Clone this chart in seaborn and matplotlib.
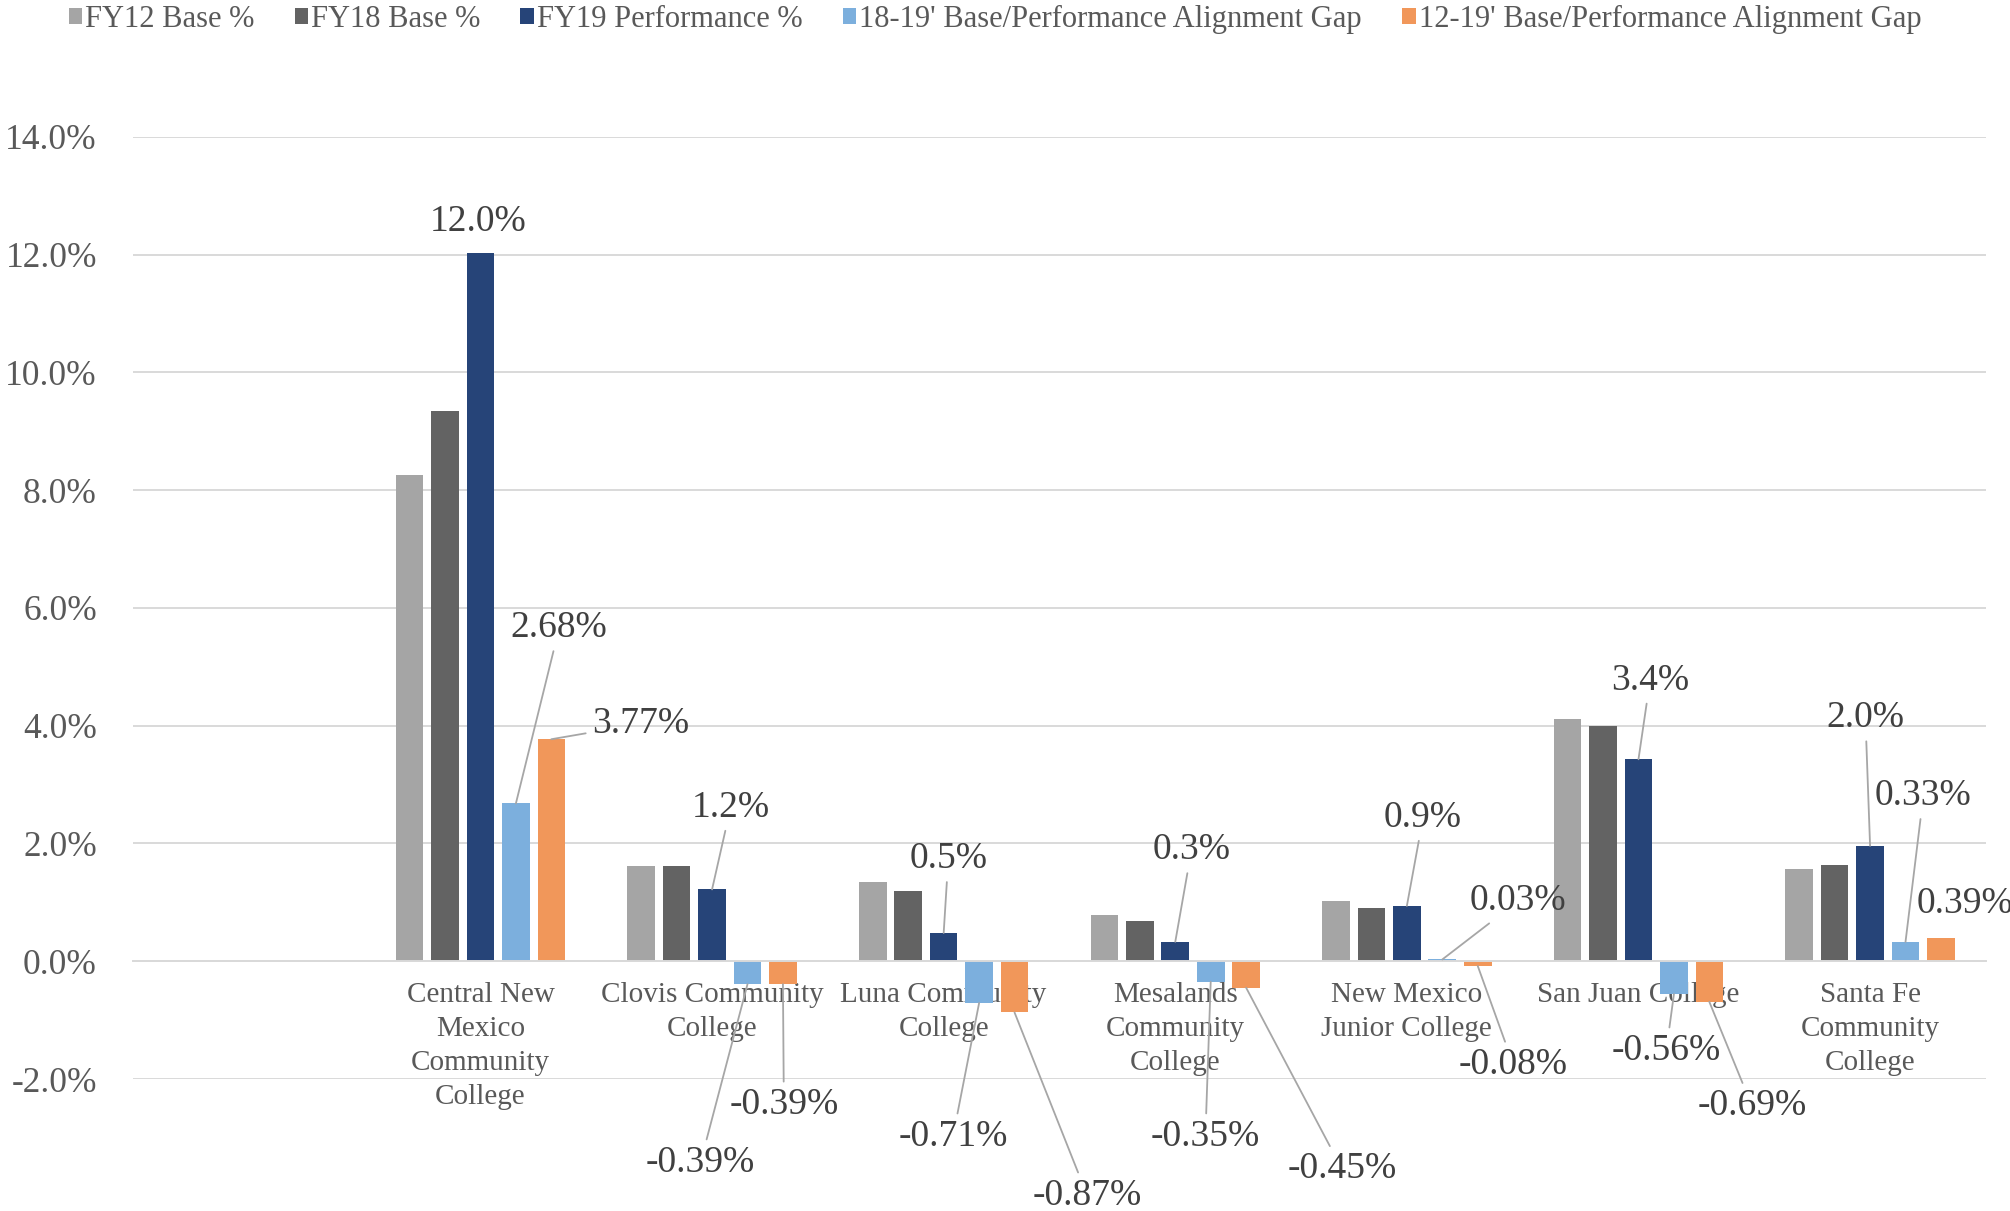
import numpy as np
import pandas as pd
import matplotlib
matplotlib.use("Agg")
import matplotlib.pyplot as plt
import seaborn as sns
from matplotlib.ticker import FuncFormatter, MultipleLocator

# ---------------- data ----------------
colleges = ["Central New Mexico Community College", "Clovis Community College",
            "Luna Community College", "Mesalands Community College",
            "New Mexico Junior College", "San Juan College",
            "Santa Fe Community College"]
tick_labels = ["", "Central New\nMexico\nCommunity\nCollege", "Clovis Community\nCollege",
               "Luna Community\nCollege", "Mesalands\nCommunity\nCollege",
               "New Mexico\nJunior College", "San Juan College",
               "Santa Fe\nCommunity\nCollege"]
series = ["FY12 Base %", "FY18 Base %", "FY19 Performance %",
          "18-19' Base/Performance Alignment Gap",
          "12-19' Base/Performance Alignment Gap"]

fy12 = [8.26, 1.61, 1.35, 0.78, 1.02, 4.12, 1.57]
fy18 = [9.35, 1.61, 1.19, 0.68, 0.91, 3.99, 1.63]
fy19 = [12.03, 1.22, 0.48, 0.33, 0.94, 3.43, 1.96]
gap1819 = [2.68, -0.39, -0.71, -0.35, 0.03, -0.56, 0.33]
gap1219 = [3.77, -0.39, -0.87, -0.45, -0.08, -0.69, 0.39]

# label placement (data coordinates) for the labelled series
fy19_label_pos = [(0.99, 12.56), (2.08, 2.61), (3.02, 1.74), (4.07, 1.89),
                  (5.07, 2.44), (6.05, 4.77), (6.98, 4.13)]
gap1819_label_pos = [(1.34, 5.66), (1.95, -3.42), (3.04, -2.98), (4.13, -2.98),
                     (5.48, 1.02), (6.12, -1.52), (7.23, 2.81)]
gap1219_label_pos = [(1.69, 4.03), (2.31, -2.44), (3.62, -3.98), (4.72, -3.53),
                     (5.46, -1.76), (6.49, -2.46), (7.41, 0.98)]
fy19_leader = [False, True, True, True, True, True, True]
gap1819_leader = [True] * 7
gap1219_leader = [True, True, True, True, True, True, False]

colors = ["#A5A5A5", "#636363", "#264478", "#7CAFDD", "#F1975A"]

# ---------------- build frame ----------------
values = [fy12, fy18, fy19, gap1819, gap1219]
rows = []
for s, vals in zip(series, values):
    for c, v in zip(colleges, vals):
        rows.append({"College": c, "Series": s, "Value": v})
df = pd.DataFrame(rows)

sns.set_theme(style="white")
plt.rcParams["font.family"] = ["Liberation Serif", "DejaVu Serif"]

fig = plt.figure(figsize=(20.1, 12.11), dpi=100)
ax = fig.add_axes([0.0662, 0.109, 0.9218, 0.778])

order = [""] + colleges
sns.barplot(data=df, x="College", y="Value", hue="Series", order=order,
            hue_order=series, palette=colors, width=0.765, gap=0.22,
            errorbar=None, linewidth=0, saturation=1, ax=ax)

handles, labels = ax.get_legend_handles_labels()
if ax.get_legend() is not None:
    ax.get_legend().remove()

ax.set_ylim(-2, 14)
ax.set_xlim(-0.5, 7.5)
ax.yaxis.set_major_locator(MultipleLocator(2))
ax.yaxis.set_major_formatter(FuncFormatter(lambda v, p: f"{v:.1f}%"))
ax.grid(axis="y", color="#D9D9D9", linewidth=1.4)
ax.set_axisbelow(True)
for sp in ["top", "right", "left"]:
    ax.spines[sp].set_visible(False)
ax.spines["bottom"].set_position(("data", 0))
ax.spines["bottom"].set_color("#D9D9D9")
ax.spines["bottom"].set_linewidth(1.4)
ax.set_xticks(range(len(order)))
ax.set_xticklabels(tick_labels, fontsize=21, color="#595959", linespacing=1.4)
ax.tick_params(axis="x", length=0, pad=15)
ax.tick_params(axis="y", length=0, pad=26, labelsize=25.5, labelcolor="#595959")
ax.set_xlabel("")
ax.set_ylabel("")

# ---------------- data labels ----------------
def label_series(k, vals, pos, leaders, fmt):
    cont = ax.containers[k]
    for i, bar in enumerate(cont):
        v = vals[i]
        bx = bar.get_x() + bar.get_width() / 2
        tx, ty = pos[i]
        txt = fmt.format(v) + "%"
        if leaders[i]:
            ax.annotate(txt, xy=(bx, v), xytext=(tx, ty), ha="center", va="center",
                        fontsize=27, color="#404040", annotation_clip=False,
                        arrowprops=dict(arrowstyle="-", color="#A6A6A6", lw=1.3,
                                        shrinkA=2, shrinkB=0))
        else:
            ax.text(tx, ty, txt, ha="center", va="center", fontsize=27,
                    color="#404040", clip_on=False)

label_series(2, fy19, fy19_label_pos, fy19_leader, "{:.1f}")
label_series(3, gap1819, gap1819_label_pos, gap1819_leader, "{:.2f}")
label_series(4, gap1219, gap1219_label_pos, gap1219_leader, "{:.2f}")

fig.legend(handles, labels, loc="upper center", bbox_to_anchor=(0.495, 1.006),
           ncol=5, frameon=False, fontsize=22, labelcolor="#595959",
           handlelength=0.45, handleheight=0.45, handletextpad=0.1,
           columnspacing=1.3, borderaxespad=0)

fig.savefig("out.png", dpi=100)
